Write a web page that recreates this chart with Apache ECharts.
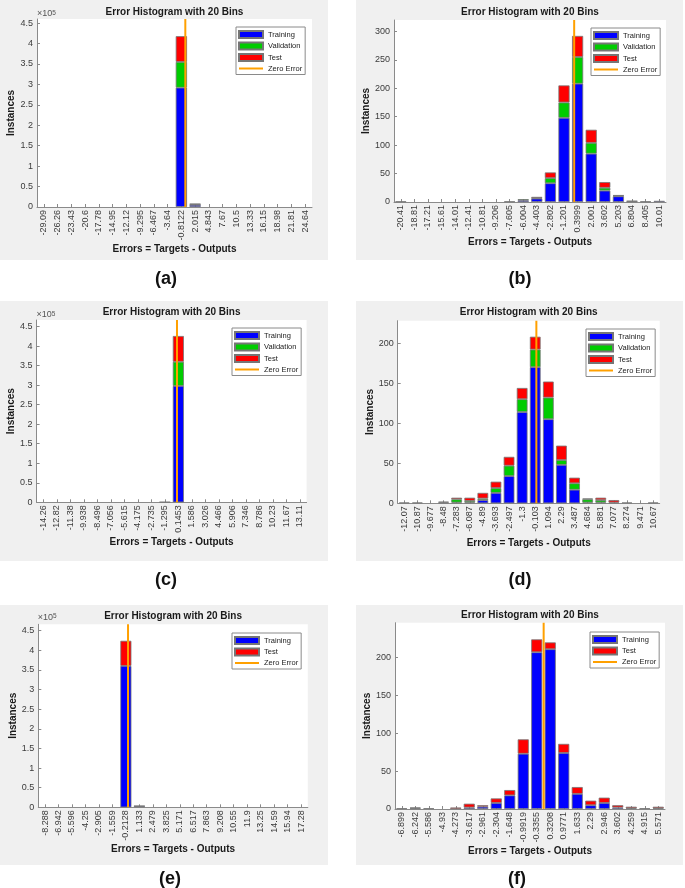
<!DOCTYPE html>
<html><head><meta charset="utf-8">
<script src="https://cdn.jsdelivr.net/npm/echarts@6/dist/echarts.min.js"></script>
<style>html,body{margin:0;padding:0;background:#fff}#c{width:685px;height:888px}</style>
</head><body><div id="c"></div>
<script>
// ---------- DATA ----------
const binsA = ['-29.09','-26.26','-23.43','-20.6','-17.78','-14.95','-12.12','-9.295','-6.467','-3.64','-0.8122','2.015','4.843','7.67','10.5','13.33','16.15','18.98','21.81','24.64'];
const trainA = [0,0,0,0,0,0,0,0,0,0,292000,5000,0,0,0,0,0,0,0,0];
const valA   = [0,0,0,0,0,0,0,0,0,0,63000,1500,0,0,0,0,0,0,0,0];
const testA  = [0,0,0,0,0,0,0,0,0,0,63000,1500,0,0,0,0,0,0,0,0];

const binsB = ['-20.41','-18.81','-17.21','-15.61','-14.01','-12.41','-10.81','-9.206','-7.605','-6.004','-4.403','-2.802','-1.201','0.3999','2.001','3.602','5.203','6.804','8.405','10.01'];
const trainB = [1,0,0,0,0,0,0,0,1,3,6,33,148,208,85,20,10,1,1,2];
const valB   = [0,0,0,0,0,0,0,0,0,2,1,9,27,47,19,5,1,0,0,0];
const testB  = [0,0,0,0,0,0,0,0,0,0,2,10,30,37,23,10,1,1,0,0];

const binsC = ['-14.26','-12.82','-11.38','-9.938','-8.496','-7.056','-5.615','-4.175','-2.735','-1.295','0.1453','1.586','3.026','4.466','5.906','7.346','8.786','10.23','11.67','13.11'];
const trainC = [0,0,0,0,0,0,0,0,0,800,298000,0,0,0,0,0,0,0,0,0];
const valC   = [0,0,0,0,0,0,0,0,0,0,62000,0,0,0,0,0,0,0,0,0];
const testC  = [0,0,0,0,0,0,0,0,0,0,66000,0,0,0,0,0,0,0,0,0];

const binsD = ['-12.07','-10.87','-9.677','-8.48','-7.283','-6.087','-4.89','-3.693','-2.497','-1.3','-0.103','1.094','2.29','3.487','4.684','5.881','7.077','8.274','9.471','10.67'];
const trainD = [0,0,0,1,1,1,4,13,34,114,170,105,48,17,1,1,0,0,0,0];
const valD   = [0,0,0,0,4,2,2,6,13,16,22,27,6,8,4,3,1,0,0,0];
const testD  = [1,1,0,1,2,4,7,8,11,14,16,20,18,7,1,3,3,1,0,1];

const binsE = ['-8.288','-6.942','-5.596','-4.25','-2.905','-1.559','-0.2128','1.133','2.479','3.825','5.171','6.517','7.863','9.208','10.55','11.9','13.25','14.59','15.94','17.28'];
const trainE = [0,0,0,0,0,0,360000,3000,0,0,0,0,0,0,0,0,0,0,0,0];
const testE  = [0,0,0,0,0,0,64000,600,0,0,0,0,0,0,0,0,0,0,0,0];

const binsF = ['-6.899','-6.242','-5.586','-4.93','-4.273','-3.617','-2.961','-2.304','-1.648','-0.9919','-0.3355','0.3208','0.9771','1.633','2.29','2.946','3.602','4.259','4.915','5.571'];
const trainF = [0,1,0,0,0,2,3,8,18,73,207,211,74,20,5,8,2,1,1,1];
const testF  = [1,1,1,0,2,5,2,6,7,19,17,9,12,9,6,7,3,2,0,2];

const yTicksBig = [0,50000,100000,150000,200000,250000,300000,350000,400000,450000];
const yTicksB = [0,50,100,150,200,250,300];
const yTicksSmall = [0,50,100,150,200];
const zeroError = 0;

const titleText = 'Error Histogram with 20 Bins';
const xName = 'Errors = Targets - Outputs';
const yName = 'Instances';

// ---------- LAYOUT ----------
const FONT = '"Liberation Sans", Arial, Helvetica, sans-serif';
const COL = {Training:'#0000ff', Validation:'#00cc00', Test:'#ff0000', 'Zero Error':'#ffa000'};

const panels = [
  {label:'(a)', bins:binsA, tr:trainA, va:valA, te:testA, ticks:yTicksBig, yMax:460000, sci:true,
   box:[0,0,328,260], grid:[37,19,275,188], titleY:12.5, legend:[236,27], lab:[166,279], sciPos:[37,14]},
  {label:'(b)', bins:binsB, tr:trainB, va:valB, te:testB, ticks:yTicksB, yMax:320, sci:false,
   box:[356,0,327,260], grid:[394,20,272,182], titleY:12.5, legend:[591,28], lab:[520,279]},
  {label:'(c)', bins:binsC, tr:trainC, va:valC, te:testC, ticks:yTicksBig, yMax:467000, sci:true,
   box:[0,301,328,260], grid:[36.6,320,270,182.3], titleY:312.3, legend:[232,328], lab:[166,580], sciPos:[36.6,315]},
  {label:'(d)', bins:binsD, tr:trainD, va:valD, te:testD, ticks:yTicksSmall, yMax:228, sci:false,
   box:[356,301,327,260], grid:[397.7,320.7,262,182.6], titleY:312.3, legend:[586,329], lab:[520,580]},
  {label:'(e)', bins:binsE, tr:trainE, va:null, te:testE, ticks:yTicksBig, yMax:466000, sci:true,
   box:[0,605,328,260], grid:[38.3,624.3,269.5,183], titleY:616.7, legend:[232,633], lab:[170,879], sciPos:[37.7,617.3]},
  {label:'(f)', bins:binsF, tr:trainF, va:null, te:testF, ticks:yTicksSmall, yMax:246, sci:false,
   box:[356,605,327,260], grid:[395,622.7,270,186.3], titleY:615, legend:[590,632], lab:[517,879]}
];

const option = {
  backgroundColor:'#ffffff', animation:false,
  textStyle:{fontFamily:FONT},
  grid:[], xAxis:[], yAxis:[], series:[], legend:[], graphic:[]
};

const axisGray = '#8a8a8a';
const tickText = '#3a3a3a';
const edge = '#767676';

// zero-height bins draw no outline
const barData = arr => arr.map(v => v === 0 ? {value:0, itemStyle:{borderWidth:0}} : v);

panels.forEach((p, i) => {
  const [gl, gt, gw, gh] = p.grid;
  option.graphic.push({type:'rect', z:-100, silent:true,
    shape:{x:p.box[0], y:p.box[1], width:p.box[2], height:p.box[3]}, style:{fill:'#f0f0f0'}});
  option.graphic.push({type:'text', x:gl + gw/2, y:p.titleY, z:10, silent:true,
    style:{text:titleText, font:'bold 10px ' + FONT, fill:'#1a1a1a', align:'center', verticalAlign:'middle', textAlign:'center', textVerticalAlign:'middle'}});
  option.graphic.push({type:'text', x:p.lab[0], y:p.lab[1], z:10, silent:true,
    style:{text:p.label, font:'bold 18px ' + FONT, fill:'#111', align:'center', verticalAlign:'middle', textAlign:'center', textVerticalAlign:'middle'}});
  if (p.sci) {
    option.graphic.push({type:'text', x:p.sciPos[0], y:p.sciPos[1], z:10, silent:true,
      style:{text:'{a|×10}{b|5}', align:'left', verticalAlign:'middle', textAlign:'left', textVerticalAlign:'middle',
        rich:{a:{fontSize:9, fill:'#555', fontFamily:FONT, verticalAlign:'bottom'}, b:{fontSize:6.5, fill:'#555', fontFamily:FONT, verticalAlign:'top'}}}});
  }

  option.grid.push({left:gl, top:gt, width:gw, height:gh, show:true, backgroundColor:'#ffffff', borderWidth:0});

  const first = parseFloat(p.bins[0]), last = parseFloat(p.bins[p.bins.length-1]);
  const w = (last - first) / (p.bins.length - 1);

  option.xAxis.push({
    type:'category', gridIndex:i, data:p.bins, boundaryGap:true,
    axisLine:{show:true, onZero:false, lineStyle:{color:axisGray, width:1}},
    axisTick:{show:true, inside:true, alignWithLabel:true, length:3, lineStyle:{color:axisGray}},
    axisLabel:{rotate:90, interval:0, fontSize:9, color:tickText, margin:3},
    splitLine:{show:false},
    name:xName, nameLocation:'middle', nameGap:35,
    nameTextStyle:{fontWeight:'bold', fontSize:10, color:'#1a1a1a'}
  });
  option.xAxis.push({
    type:'value', gridIndex:i, show:false, min:first - w/2, max:last + w/2, position:'bottom',
    axisLine:{onZero:false}
  });
  option.yAxis.push({
    type:'value', gridIndex:i, min:0, max:p.yMax, position:'left',
    axisLine:{show:true, onZero:false, lineStyle:{color:axisGray, width:1}},
    axisTick:{show:true, inside:true, length:3, lineStyle:{color:axisGray}, customValues:p.ticks},
    axisLabel:{fontSize:9, color:tickText, margin:4, customValues:p.ticks,
      formatter: v => p.sci ? String(+(v/100000).toFixed(2)) : String(v)},
    splitLine:{show:false},
    name:yName, nameLocation:'middle', nameGap:19.5, nameRotate:90,
    nameTextStyle:{fontWeight:'bold', fontSize:10, color:'#1a1a1a'}
  });

  const base = {type:'bar', stack:'s'+i, xAxisIndex:2*i, yAxisIndex:i, barWidth:'82%'};
  const bStyle = c => ({color:c, borderColor:edge, borderWidth:0.8});
  option.series.push(Object.assign({name:'Training', data:barData(p.tr), itemStyle:bStyle(COL.Training)}, base));
  if (p.va) option.series.push(Object.assign({name:'Validation', data:barData(p.va), itemStyle:bStyle(COL.Validation)}, base));
  option.series.push(Object.assign({name:'Test', data:barData(p.te), itemStyle:bStyle(COL.Test)}, base));
  option.series.push({name:'Zero Error', type:'line', xAxisIndex:2*i+1, yAxisIndex:i, z:5,
    data:[[zeroError,0],[zeroError,p.yMax]], symbol:'none', silent:true,
    lineStyle:{color:COL['Zero Error'], width:2}, itemStyle:{color:COL['Zero Error']}});

  const names = p.va ? ['Training','Validation','Test'] : ['Training','Test'];
  const legData = names.map(n => ({name:n, icon:'rect'}));
  legData.push({name:'Zero Error', icon:'path://M0,0H24V2H0Z', itemStyle:{color:COL['Zero Error'], borderWidth:0}});
  option.legend.push({
    left:p.legend[0], top:p.legend[1], orient:'vertical', data:legData, selectedMode:false,
    itemWidth:24, itemHeight:7, itemGap:2.5, padding:[3,3,2,2], symbolKeepAspect:true,
    backgroundColor:'#ffffff', borderColor:'#8a8a8a', borderWidth:1, borderRadius:0,
    textStyle:{fontSize:7.5, color:'#222'}
  });
});

const chart = echarts.init(document.getElementById('c'));
chart.setOption(option);
</script></body></html>
